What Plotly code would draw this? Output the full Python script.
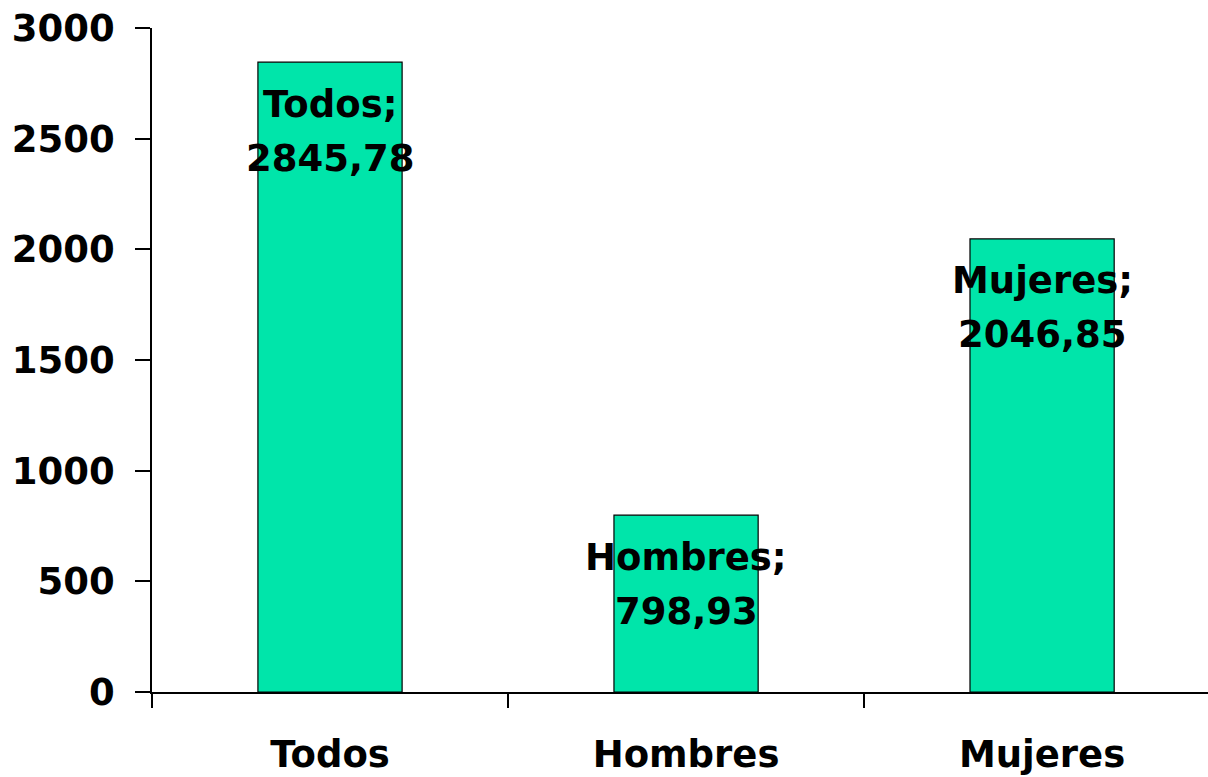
import plotly.graph_objects as go

categories = ["Todos", "Hombres", "Mujeres"]
values = [2845.78, 798.93, 2046.85]
value_labels = ["2845,78", "798,93", "2046,85"]
y_ticks = [0, 500, 1000, 1500, 2000, 2500, 3000]

FONT = "DejaVu Sans"
BAR = "#00E5AA"
FS = 37

fig = go.Figure()
fig.add_trace(go.Bar(
    x=categories, y=values, width=0.405,
    marker=dict(color=BAR, line=dict(color="black", width=1.2)),
    hoverinfo="skip",
))

for c, v, lab in zip(categories, values, value_labels):
    fig.add_annotation(
        x=c, y=v, xref="x", yref="y", yanchor="middle", yshift=-42,
        text=f"<b>{c}</b>;", showarrow=False,
        font=dict(family=FONT, size=FS, color="black"),
    )
    fig.add_annotation(
        x=c, y=v, xref="x", yref="y", yanchor="middle", yshift=-96,
        text=f"<b>{lab}</b>", showarrow=False,
        font=dict(family=FONT, size=FS, color="black"),
    )

fig.update_layout(
    width=1208, height=777,
    margin=dict(l=152, r=0, t=28, b=85),
    paper_bgcolor="white", plot_bgcolor="white",
    showlegend=False,
    font=dict(family=FONT, size=FS, color="black", weight="bold"),
)
fig.update_xaxes(
    range=[-0.5, 2.466], showline=True, linecolor="black", linewidth=1.5,
    ticks="outside", tickson="boundaries", ticklen=14, tickwidth=1.5, tickcolor="black",
    showgrid=False, zeroline=False, ticklabelstandoff=29, ticklabeloverflow="allow",
    tickfont=dict(family=FONT, size=FS, color="black", weight="bold"),
)
fig.update_yaxes(
    range=[0, 3000], tickvals=y_ticks, showline=True, linecolor="black", linewidth=1.5,
    ticks="outside", ticklen=15, tickwidth=1.5, tickcolor="black",
    showgrid=False, zeroline=False, ticklabelstandoff=13, ticklabeloverflow="allow",
    tickfont=dict(family=FONT, size=FS, color="black", weight="bold"),
)

fig.write_html(
    "out.html",
    config={"displayModeBar": False},
    post_script="document.body.style.margin='0px';document.body.style.overflow='hidden';",
)
